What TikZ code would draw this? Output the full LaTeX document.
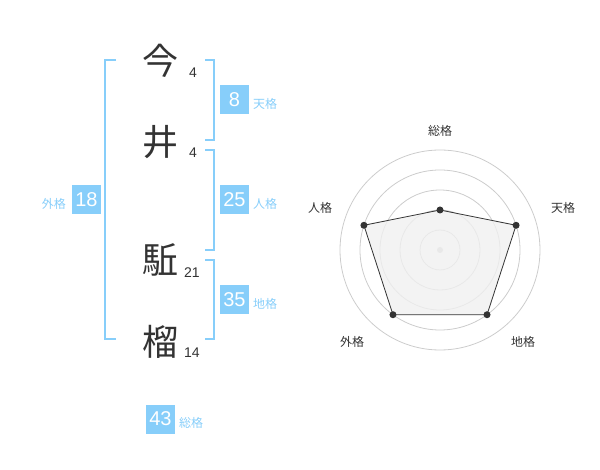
\documentclass[tikz,border=0pt]{standalone}
\usepackage{fontspec}
\usetikzlibrary{calc}
\setmainfont{Liberation Sans}
\newfontfamily\cjk{Noto Sans CJK JP}
\definecolor{sky}{HTML}{87CEFA}
\definecolor{ink}{HTML}{333333}
\definecolor{ring}{HTML}{CCCCCC}
\tikzset{
  x=1pt,y=-1pt,
  kanji/.style={font=\cjk\fontsize{36}{36}\selectfont, text=ink, inner sep=0pt},
  strokes/.style={font=\fontsize{14}{14}\selectfont, text=ink, inner sep=0pt},
  bracket/.style={draw=sky, line width=1.8pt},
  numbox/.style={fill=sky, text=white, minimum width=29pt, minimum height=29pt, inner sep=0pt, font=\fontsize{20}{20}\selectfont},
  kaku/.style={text=sky, font=\cjk\fontsize{12}{12}\selectfont, inner sep=0pt},
  axislabel/.style={text=ink, font=\cjk\fontsize{12}{12}\selectfont, inner sep=0pt},
  ringline/.style={draw=ring, line width=0.8pt},
  dot/.style={circle, fill=ink, inner sep=0pt, minimum size=7pt},
}
\begin{document}
\begin{tikzpicture}
\useasboundingbox (0,0) rectangle (600,470);
% kanji
\node[kanji] (k1) at (160,61) {今};
\node[kanji] (k2) at (160,142) {井};
\node[kanji] (k3) at (160,260) {駈};
\node[kanji] (k4) at (160,342) {榴};
\node[strokes] (s1) at (193,73) {4};
\node[strokes] (s2) at (193,153) {4};
\node[strokes] (s3) at (192,273) {21};
\node[strokes] (s4) at (192,353) {14};
% brackets
\coordinate (lt) at (116,60); \coordinate (lb) at (116,339);
\draw[bracket] (lt) -| (105,339) -- (lb);
\coordinate (t1) at (205,60); \coordinate (t2) at (205,140);
\draw[bracket] (t1) -| (214,140) -- (t2);
\coordinate (j1) at (205,150); \coordinate (j2) at (205,250);
\draw[bracket] (j1) -| (214,250) -- (j2);
\coordinate (c1) at (205,260); \coordinate (c2) at (205,339);
\draw[bracket] (c1) -| (214,339) -- (c2);
% boxes
\node[numbox] (b8) at (234.5,100) {8};
\node[kaku, anchor=west] (l8) at (253,104) {天格};
\node[numbox] (b25) at (234.5,200) {25};
\node[kaku, anchor=west] (l25) at (253,204) {人格};
\node[numbox] (b35) at (234.5,300) {35};
\node[kaku, anchor=west] (l35) at (253,304) {地格};
\node[numbox] (b18) at (86.5,200) {18};
\node[kaku, anchor=east] (l18) at (66,204) {外格};
\node[numbox] (b43) at (160.5,419) {43};
\node[kaku, anchor=west] (l43) at (179,423) {総格};
% radar
\coordinate (ctr) at (440,250);
\foreach \r in {20,40,60,80,100} \draw[ringline] (ctr) circle[radius=\r pt];
\fill[ring] (ctr) circle[radius=3pt];
\coordinate (pS) at ($(ctr)+(90:40pt)$);
\coordinate (pT) at ($(ctr)+(18:80pt)$);
\coordinate (pC) at ($(ctr)+(-54:80pt)$);
\coordinate (pG) at ($(ctr)+(-126:80pt)$);
\coordinate (pJ) at ($(ctr)+(162:80pt)$);
\filldraw[fill=black!6, fill opacity=0.8, draw=ink, line width=0.8pt] (pS) -- (pT) -- (pC) -- (pG) -- (pJ) -- cycle;
\foreach \p in {pS,pT,pC,pG,pJ} \node[dot] at (\p) {};
\node[axislabel] (aS) at (440,131) {総格};
\node[axislabel] (aT) at (563,208) {天格};
\node[axislabel] (aJ) at (320,208) {人格};
\node[axislabel] (aC) at (523,342) {地格};
\node[axislabel] (aG) at (352,342) {外格};
\end{tikzpicture}
\end{document}
